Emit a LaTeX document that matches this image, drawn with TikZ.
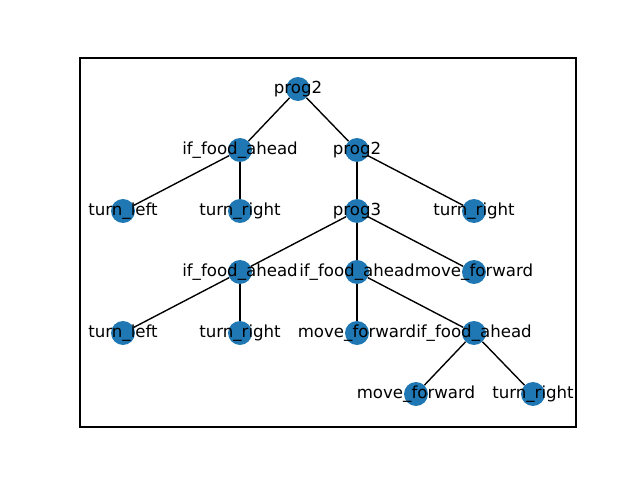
\documentclass[tikz,border=0pt]{standalone}
\usepackage{fontspec}
\setmainfont{DejaVu Sans}
\definecolor{nodeblue}{HTML}{1F77B4}
\begin{document}
\begin{tikzpicture}[x=0.01in,y=-0.01in,
  vtx/.style={circle,fill=nodeblue,inner sep=0pt,minimum size=17.3pt},
  lbl/.style={inner sep=0pt,font=\fontsize{12}{14}\selectfont},
  edge/.style={line width=1pt,black}]
\useasboundingbox (0,0) rectangle (640,480);
\draw[line width=0.8pt] (80,58) rectangle (576,427);
\node[vtx] (a) at (298,89) {};
\node[vtx] (b) at (240,150) {};
\node[vtx] (c) at (357,150) {};
\node[vtx] (d) at (123,211) {};
\node[vtx] (e) at (240,211) {};
\node[vtx] (f) at (357,211) {};
\node[vtx] (g) at (474,211) {};
\node[vtx] (h) at (240,272) {};
\node[vtx] (i) at (357,272) {};
\node[vtx] (j) at (474,272) {};
\node[vtx] (k) at (123,333) {};
\node[vtx] (l) at (240,333) {};
\node[vtx] (m) at (357,333) {};
\node[vtx] (n) at (474,333) {};
\node[vtx] (o) at (416,394) {};
\node[vtx] (p) at (533,394) {};
\draw[edge] (a) -- (b); \draw[edge] (a) -- (c);
\draw[edge] (b) -- (d); \draw[edge] (b) -- (e);
\draw[edge] (c) -- (f); \draw[edge] (c) -- (g);
\draw[edge] (f) -- (h); \draw[edge] (f) -- (i); \draw[edge] (f) -- (j);
\draw[edge] (h) -- (k); \draw[edge] (h) -- (l);
\draw[edge] (i) -- (m); \draw[edge] (i) -- (n);
\draw[edge] (n) -- (o); \draw[edge] (n) -- (p);
\node[lbl] (la) at (a) {prog2};
\node[lbl] (lb) at (b) {if\_food\_ahead};
\node[lbl] (lc) at (c) {prog2};
\node[lbl] (ld) at (d) {turn\_left};
\node[lbl] (le) at (e) {turn\_right};
\node[lbl] (lf) at (f) {prog3};
\node[lbl] (lg) at (g) {turn\_right};
\node[lbl] (lh) at (h) {if\_food\_ahead};
\node[lbl] (li) at (i) {if\_food\_ahead};
\node[lbl] (lj) at (j) {move\_forward};
\node[lbl] (lk) at (k) {turn\_left};
\node[lbl] (ll) at (l) {turn\_right};
\node[lbl] (lm) at (m) {move\_forward};
\node[lbl] (ln) at (n) {if\_food\_ahead};
\node[lbl] (lo) at (o) {move\_forward};
\node[lbl] (lp) at (p) {turn\_right};
\end{tikzpicture}
\end{document}
